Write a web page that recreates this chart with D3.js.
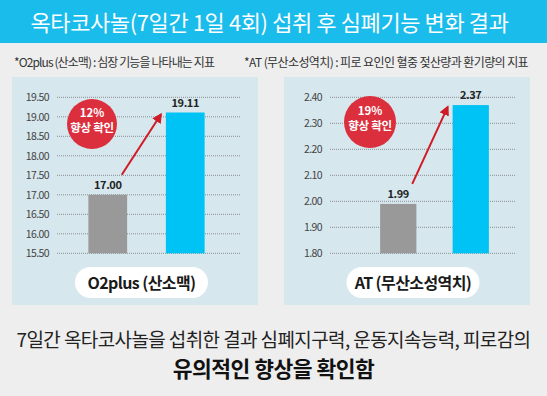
<!DOCTYPE html>
<html>
<head>
<meta charset="utf-8">
<script src="https://cdn.jsdelivr.net/npm/d3@7"></script>
<style>
  body { margin: 0; background: #eeeeee; }
  svg { display: block; font-family: "Noto Sans CJK KR", "Noto Sans", sans-serif; }
</style>
</head>
<body>
<div id="chart"></div>
<script>
// data
const categories = ["before", "after"];
const o2Values = [17.00, 19.11];
const atValues = [1.99, 2.37];
const o2Ticks = [15.5, 16.0, 16.5, 17.0, 17.5, 18.0, 18.5, 19.0, 19.5];
const atTicks = [1.8, 1.9, 2.0, 2.1, 2.2, 2.3, 2.4];
const improvements = ["12%", "19%"];
const chartNames = ["O2plus (산소맥)", "AT (무산소성역치)"];

const width = 547, height = 396;

const svg = d3.select("#chart")
  .append("svg")
  .attr("width", width)
  .attr("height", height);

// background + header
svg.append("rect").attr("width", width).attr("height", height).attr("fill", "#eeeeee");
svg.append("rect").attr("width", width).attr("height", 43).attr("fill", "#1abcec");

svg.append("text")
  .attr("x", width / 2 - 4)
  .attr("y", 31)
  .attr("text-anchor", "middle")
  .attr("fill", "#fff")
  .attr("font-size", 22)
  .attr("letter-spacing", -0.4)
  .text("옥타코사놀(7일간 1일 4회) 섭취 후 심폐기능 변화 결과");

svg.append("text")
  .attr("x", 14).attr("y", 67)
  .attr("fill", "#333").attr("font-size", 12).attr("letter-spacing", -0.9)
  .text("*O2plus (산소맥) : 심장 기능을 나타내는 지표");

svg.append("text")
  .attr("x", 244).attr("y", 67)
  .attr("fill", "#333").attr("font-size", 12).attr("letter-spacing", -0.6)
  .text("*AT (무산소성역치) : 피로 요인인 혈중 젖산량과 환기량의 지표");

// one panel per indicator
const panels = [
  { values: o2Values, ticks: o2Ticks, name: chartNames[0], badge: improvements[0],
    panelX: 12, gridX: [57, 240], labelX: 49, band: [69, 224], fmt: d3.format(".2f"),
    circle: [92, 124, 25], pillX: 141.5 },
  { values: atValues, ticks: atTicks, name: chartNames[1], badge: improvements[1],
    panelX: 284, gridX: [330, 515], labelX: 322, band: [362, 507], fmt: d3.format(".2f"),
    circle: [370, 122, 26], pillX: 413 }
];

const panelTop = 77, panelBottom = 305, panelW = 246;
const yTop = 97.3, yBottom = 253.3;

svg.append("defs").append("marker")
  .attr("id", "arrowhead")
  .attr("viewBox", "0 0 10 10")
  .attr("refX", 8).attr("refY", 5)
  .attr("markerWidth", 5).attr("markerHeight", 5)
  .attr("orient", "auto")
  .append("path")
  .attr("d", "M0,0 L10,5 L0,10 z")
  .attr("fill", "#d01a25");

panels.forEach(p => {
  const g = svg.append("g");

  g.append("rect")
    .attr("x", p.panelX).attr("y", panelTop)
    .attr("width", panelW).attr("height", panelBottom - panelTop)
    .attr("fill", "#d6e7ee");

  const y = d3.scaleLinear()
    .domain([p.ticks[0], p.ticks[p.ticks.length - 1]])
    .range([yBottom, yTop]);

  const x = d3.scaleBand()
    .domain(categories)
    .range(p.band)
    .paddingInner(0.5)
    .paddingOuter(0.25);

  // gridlines
  g.selectAll("line.grid")
    .data(p.ticks)
    .join("line")
    .attr("class", "grid")
    .attr("x1", p.gridX[0]).attr("x2", p.gridX[1])
    .attr("y1", d => y(d)).attr("y2", d => y(d))
    .attr("stroke", "#8a8f93")
    .attr("stroke-width", 1)
    .attr("stroke-dasharray", "1,1");

  // tick labels
  g.selectAll("text.tick")
    .data(p.ticks)
    .join("text")
    .attr("class", "tick")
    .attr("x", p.labelX)
    .attr("y", d => y(d) + 4)
    .attr("text-anchor", "end")
    .attr("fill", "#444")
    .attr("font-size", 10.5)
    .attr("letter-spacing", -0.6)
    .text(d => p.fmt(d));

  // bars
  g.selectAll("rect.bar")
    .data(p.values)
    .join("rect")
    .attr("class", "bar")
    .attr("x", (d, i) => x(categories[i]))
    .attr("width", x.bandwidth())
    .attr("y", d => y(d))
    .attr("height", d => yBottom - y(d))
    .attr("fill", (d, i) => i === 0 ? "#999999" : "#00c3f5");

  // value labels
  g.selectAll("text.value")
    .data(p.values)
    .join("text")
    .attr("class", "value")
    .attr("x", (d, i) => x(categories[i]) + x.bandwidth() / 2)
    .attr("y", d => y(d) - 6)
    .attr("text-anchor", "middle")
    .attr("fill", "#222")
    .attr("font-size", 11)
    .attr("font-weight", 700)
    .attr("letter-spacing", -0.4)
    .text(d => p.fmt(d));

  // arrow
  const x0 = x(categories[0]) + x.bandwidth() / 2 + 14;
  const y0 = y(p.values[0]) - 20;
  const x1 = x(categories[1]) - 5;
  const y1 = y(p.values[1]) + 2;
  g.append("line")
    .attr("x1", x0).attr("y1", y0)
    .attr("x2", x1).attr("y2", y1)
    .attr("stroke", "#d01a25")
    .attr("stroke-width", 2)
    .attr("marker-end", "url(#arrowhead)");

  // badge
  const [cx, cy, r] = p.circle;
  g.append("circle")
    .attr("cx", cx).attr("cy", cy).attr("r", r)
    .attr("fill", "#dc2f3d");
  g.append("text")
    .attr("x", cx).attr("y", cy - 7)
    .attr("text-anchor", "middle")
    .attr("fill", "#fff").attr("font-size", 11.5).attr("font-weight", 700)
    .text(p.badge);
  g.append("text")
    .attr("x", cx).attr("y", cy + 8)
    .attr("text-anchor", "middle")
    .attr("fill", "#fff").attr("font-size", 11.5).attr("font-weight", 700)
    .attr("letter-spacing", -0.3)
    .text("향상 확인");

  // name pill
  g.append("rect")
    .attr("x", p.pillX - 66.5).attr("y", 267)
    .attr("width", 133).attr("height", 31)
    .attr("rx", 15.5)
    .attr("fill", "#ffffff");
  g.append("text")
    .attr("x", p.pillX).attr("y", 288.5)
    .attr("text-anchor", "middle")
    .attr("fill", "#1a1a1a")
    .attr("font-size", 16).attr("font-weight", 700)
    .attr("letter-spacing", -0.6)
    .text(p.name);
});

// conclusion
svg.append("text")
  .attr("x", width / 2)
  .attr("y", 347)
  .attr("text-anchor", "middle")
  .attr("fill", "#222")
  .attr("font-size", 19)
  .attr("letter-spacing", -0.6)
  .text("7일간 옥타코사놀을 섭취한 결과 심폐지구력, 운동지속능력, 피로감의");

svg.append("text")
  .attr("x", width / 2)
  .attr("y", 377)
  .attr("text-anchor", "middle")
  .attr("fill", "#111")
  .attr("font-size", 21.5)
  .attr("font-weight", 700)
  .attr("letter-spacing", -0.5)
  .text("유의적인 향상을 확인함");
</script>
</body>
</html>
